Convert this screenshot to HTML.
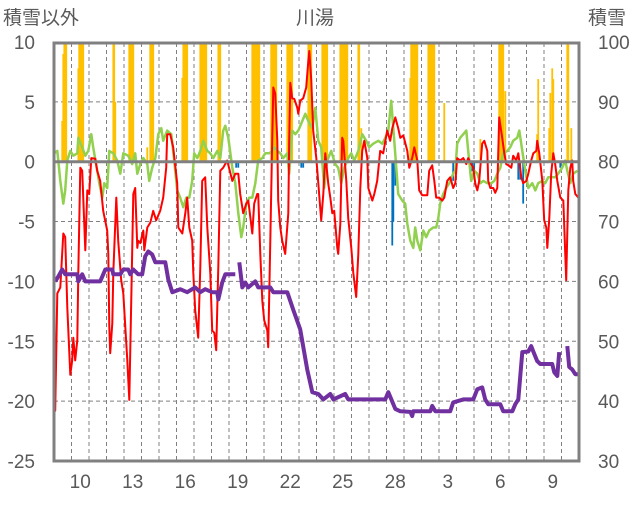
<!DOCTYPE html>
<html><head><meta charset="utf-8"><style>
body{margin:0;background:#fff;width:636px;height:501px;overflow:hidden}
svg text{font-family:"Liberation Sans","Noto Sans CJK JP",sans-serif;fill:#595959;font-size:19px}
</style></head><body>
<svg id="chart" width="636" height="501">
<defs><clipPath id="clip"><rect x="54" y="43" width="525" height="418"/></clipPath></defs>
<g id="grid"></g>
<g id="bars" clip-path="url(#clip)"></g>
<g id="lines" clip-path="url(#clip)"></g>
<g id="axes"></g>
<text x="3" y="24">積雪以外</text>
<text x="315" y="24" text-anchor="middle">川湯</text>
<text x="588" y="24">積雪</text>
</svg>
<script>
const leftTicks=[10,5,0,-5,-10,-15,-20,-25];
const rightTicks=[100,90,80,70,60,50,40,30];
const dayTicks=[10,13,16,19,22,25,28,31,34,37];
const dayLabels=["10","13","16","19","22","25","28","3","6","9"];
const tempT=[8.51,8.57,8.69,8.86,9.03,9.14,9.26,9.43,9.54,9.6,9.71,9.83,9.89,10.0,10.11,10.29,10.4,10.51,10.63,10.86,10.97,11.14,11.31,11.54,11.6,11.66,11.71,11.83,11.89,12.06,12.17,12.34,12.46,12.69,12.8,12.91,13.03,13.14,13.26,13.31,13.43,13.6,13.66,13.83,14.0,14.17,14.34,14.57,14.74,14.91,14.97,15.14,15.31,15.54,15.6,15.83,16.0,16.11,16.23,16.4,16.46,16.57,16.74,16.86,16.97,17.14,17.26,17.43,17.54,17.66,17.77,17.89,18.0,18.17,18.4,18.69,18.86,19.03,19.14,19.31,19.49,19.6,19.83,19.94,20.11,20.17,20.29,20.4,20.51,20.69,20.74,20.86,20.97,21.03,21.14,21.26,21.31,21.43,21.54,21.71,21.89,21.94,22.0,22.11,22.23,22.4,22.46,22.57,22.74,22.91,23.03,23.09,23.2,23.31,23.49,23.6,23.77,23.89,24.0,24.17,24.29,24.4,24.51,24.69,24.74,24.86,24.97,25.03,25.2,25.31,25.49,25.6,25.77,25.89,26.0,26.11,26.23,26.4,26.46,26.69,26.8,26.97,27.14,27.31,27.54,27.71,27.83,28.0,28.17,28.29,28.46,28.69,28.8,28.97,29.09,29.26,29.37,29.54,29.83,29.94,30.11,30.23,30.34,30.51,30.69,30.8,30.97,31.14,31.31,31.43,31.54,31.71,31.89,32.06,32.17,32.34,32.46,32.57,32.69,32.8,32.97,33.09,33.26,33.31,33.43,33.6,33.71,33.83,33.94,34.11,34.23,34.34,34.46,34.63,34.74,34.91,35.03,35.2,35.31,35.49,35.6,35.77,35.89,36.06,36.11,36.23,36.4,36.51,36.63,36.69,36.8,36.91,37.03,37.14,37.26,37.43,37.6,37.66,37.77,37.89,38.0,38.11,38.17,38.29,38.46];
const tempV=[-19.1,-20.8,-11.0,-10.5,-6.0,-6.3,-12.2,-17.8,-16.6,-14.7,-16.6,-14.9,-9.3,-0.5,-0.75,-7.4,-2.4,-2.7,0.3,0.25,-0.75,-1.6,-4.1,-5.75,-7.7,-13.8,-16.0,-13.5,-9.3,-3.0,-6.6,-9.9,-11.0,-16.6,-19.9,-11.8,-2.7,-2.2,-7.2,-6.6,-6.8,-5.75,-7.4,-5.5,-5.1,-4.1,-4.9,-4.1,-3.0,-0.5,2.3,2.3,1.2,-1.8,-5.5,-6.0,-4.3,-3.0,-5.5,-6.6,-9.3,-12.4,-14.7,-8.8,-1.6,-1.3,-5.5,-9.3,-14.1,-14.3,-15.75,-8.8,-0.75,-0.5,0.1,-1.6,-1.0,-1.0,-2.7,-4.3,-3.5,-3.25,-6.0,-3.5,-2.7,-2.7,-7.7,-11.6,-13.25,-14.1,-15.5,-6.6,1.75,6.2,5.7,1.75,-3.25,-5.5,-6.6,-7.7,-4.3,1.75,6.6,5.3,5.25,4.5,4.0,5.1,5.3,6.2,8.4,9.25,6.75,2.6,0.3,-1.8,-4.9,-2.7,0.7,-1.8,-3.0,-4.3,-4.1,-7.2,-7.7,-5.2,2.0,1.75,-1.6,-4.7,-7.2,-9.3,-11.3,-7.7,-2.2,0.9,1.75,0.3,-2.2,-3.25,-2.7,-1.6,0.9,0.7,2.6,1.75,2.8,3.7,2.8,2.0,2.2,0.9,-0.5,0.3,1.2,0.1,-2.4,-2.8,-2.8,-0.75,-0.3,-1.6,-3.0,-3.0,-3.25,-3.0,-1.6,-1.3,-2.2,-1.8,0.3,0.1,0.3,-0.2,0.3,-0.2,-0.5,-1.8,-2.4,-1.6,1.5,1.75,0.9,-1.6,-2.2,-2.2,-2.6,-2.2,3.7,2.0,0.7,-0.2,-0.3,-0.5,0.5,0.1,0.7,-1.3,-1.8,-1.6,-1.0,0.1,0.7,0.9,1.75,0.7,-1.6,-4.9,-5.5,-7.2,-4.7,-1.0,0.7,-0.2,-1.6,-3.0,-3.25,-5.5,-9.9,-2.4,-0.5,0.1,-1.6,-2.7,-3.0];
const humT=[8.51,8.69,8.86,9.03,9.14,9.26,9.43,9.6,9.83,9.89,10.11,10.29,10.46,10.63,10.74,10.97,11.09,11.26,11.37,11.54,11.66,11.89,12.11,12.29,12.46,12.74,12.97,13.14,13.26,13.43,13.6,13.83,13.94,14.11,14.29,14.46,14.63,14.74,14.97,15.2,15.37,15.54,15.71,15.89,16.06,16.23,16.4,16.51,16.69,16.86,17.03,17.26,17.43,17.6,17.83,18.0,18.17,18.29,18.46,18.69,18.86,19.03,19.2,19.31,19.49,19.66,19.83,20.0,20.17,20.4,20.57,20.8,20.97,21.09,21.26,21.43,21.6,21.83,21.94,22.11,22.29,22.46,22.69,22.86,23.03,23.26,23.43,23.6,23.77,23.94,24.11,24.34,24.57,24.74,24.91,25.09,25.31,25.49,25.66,25.89,26.11,26.34,26.51,26.74,27.03,27.26,27.43,27.6,27.77,27.89,28.06,28.17,28.4,28.57,28.69,28.86,29.03,29.14,29.26,29.43,29.6,29.77,29.94,30.17,30.34,30.46,30.57,30.74,30.91,31.09,31.31,31.43,31.54,31.71,31.89,32.06,32.17,32.34,32.51,32.69,32.86,33.03,33.26,33.49,33.66,33.83,34.0,34.17,34.4,34.57,34.74,34.97,35.09,35.26,35.43,35.6,35.83,36.0,36.17,36.4,36.57,36.74,36.97,37.14,37.31,37.54,37.71,37.83,38.0,38.17,38.4];
const humV=[0.7,0.9,-1.6,-3.5,-2.4,0.1,0.9,0.5,0.7,2.0,1.2,0.5,0.9,2.3,1.2,-0.75,-1.8,-3.0,-1.8,-2.2,0.9,0.7,0.1,-1.0,0.7,0.5,-0.2,0.7,-1.0,-0.2,0.3,-0.2,-1.6,-0.5,0.3,2.3,2.8,1.75,2.6,2.3,0.1,-2.4,-3.0,-3.8,-3.0,-3.0,-1.6,0.7,0.3,0.9,1.75,0.9,0.7,0.3,0.9,0.3,2.6,3.0,2.0,-0.5,-1.8,-4.3,-6.3,-5.5,-3.5,-3.0,-3.0,-1.8,0.1,0.3,0.7,0.7,0.9,1.2,0.9,0.7,0.3,0.7,-1.0,2.6,2.3,2.6,3.4,4.0,3.4,2.8,4.5,1.75,1.2,-2.2,0.1,0.9,-0.2,-0.5,-1.8,-0.5,0.3,0.7,0.1,0.9,2.3,1.75,1.2,1.5,1.75,1.5,2.0,2.6,5.1,2.8,-0.5,-2.7,-3.25,-3.5,-5.2,-6.6,-7.2,-5.5,-6.6,-7.4,-5.75,-6.3,-5.75,-5.5,-5.5,-4.7,-3.5,-2.7,-2.2,-1.8,-1.0,-0.75,1.5,2.0,2.3,2.6,0.9,-1.6,-0.75,-1.0,-1.8,-1.6,-1.8,-1.8,-1.6,-1.0,-0.5,0.7,0.9,1.2,1.75,2.0,2.6,0.9,-0.75,-2.2,-1.8,-2.4,-1.8,-1.6,-1.8,-1.3,-1.3,-1.3,-1.0,-0.5,0.1,-0.75,-1.8,-1.0,-0.75];
const snowT=[8.57,8.74,8.97,9.14,9.83,9.89,10.11,10.29,11.14,11.43,11.83,11.89,12.29,12.46,12.74,12.86,13.03,13.31,13.54,13.71,13.89,14.11,14.29,14.86,15.03,15.26,15.71,16.11,16.57,16.86,17.14,17.54,17.83,17.89,18.11,18.29,18.86,18.95,19.09,19.26,19.43,19.6,20.0,20.17,20.86,21.03,21.83,22.17,22.57,22.97,23.26,23.6,23.89,24.29,24.46,25.14,25.31,27.43,27.6,28.0,28.29,28.86,28.97,29.03,30.0,30.11,30.29,31.14,31.31,31.89,32.46,32.69,32.97,33.14,33.31,34.0,34.17,34.69,34.86,35.03,35.26,35.6,35.77,35.89,36.11,36.29,36.97,37.09,37.26,37.37,37.6,37.83,37.94,38.11,38.29,38.46];
const snowV=[60,60.8,62,61.2,61.2,60,61.2,60,60,62,62,61.2,61.2,62,62,61.2,62,61.2,61.2,64.2,65,64.5,63.2,63.2,60.3,58.2,58.7,58.2,59,58.2,58.7,58.2,58.2,57,59.8,61.2,61.2,null,63.2,59,59.8,59,60,59,59,58.2,58.2,55.3,52,45.3,41.5,41.2,40.3,41.2,40.3,41.2,40.3,40.3,41.5,38.7,38.3,38.2,37.5,38.3,38.3,39.2,38.3,38.3,39.8,40.3,40.3,42,42.3,40.3,39.5,39.5,38.3,38.3,39.5,40.3,48.2,48.3,49.2,48.3,46.7,46.2,46.2,44.8,44.2,48.2,null,49.2,45.7,45.3,44.5,44.5];
const precipT=[8.97,9.03,9.09,9.14,9.2,9.89,9.94,10.0,10.06,10.11,10.17,11.89,11.94,12.0,12.8,12.86,12.91,12.97,13.03,13.83,14.0,14.06,14.11,14.17,15.83,15.89,15.94,16.0,16.06,16.11,16.86,16.91,16.97,17.03,17.09,17.14,17.2,17.89,17.94,18.0,19.83,19.89,19.94,20.0,20.06,20.11,20.17,20.23,20.91,20.97,21.03,21.09,21.14,21.2,21.83,21.89,21.94,22.0,22.06,22.11,23.03,23.09,23.14,23.2,23.83,23.89,23.94,24.0,24.06,24.11,24.86,24.91,24.97,25.03,25.09,25.14,25.2,25.26,25.89,25.94,26.06,28.86,28.91,28.97,29.03,29.09,29.14,29.2,29.26,29.89,29.94,30.0,30.06,30.11,30.17,30.23,30.8,32.86,33.94,34.0,34.06,34.11,34.17,34.29,36.11,36.17,36.8,36.86,36.97,37.03,37.83,37.89,38.06];
const precipV=[3.4,9,12,12,12,7.8,12,12,12,12,12,12,12,5,12,12,12,12,12,1.2,12,12,12,12,7,12,12,12,12,12,12,12,12,12,12,12,12,12,12,12,12,12,12,12,12,12,12,12,12,12,12,12,12,12,12,12,12,12,12,12,12,12,12,12,12,12,12,12,12,12,12,12,12,12,12,12,12,12,12,12,2.8,7,12,12,12,12,12,12,12,12,12,12,12,12,12,12,4.9,1.9,12,12,12,12,12,5.9,2.3,6.9,2.8,5.75,7.8,6.9,12,12,2.8];
const negT=[18.91,19.03,22.63,22.74,27.83,27.89,28.0,31.31,32.4,32.51,35.03,35.14,35.31,37.43];
const negV=[-0.5,-0.5,-0.5,-0.5,-7,-5,-2,-1.6,-0.8,-1.2,-1.5,-1.5,-3.5,-0.5];

const NS='http://www.w3.org/2000/svg';
const X0=54,XS=17.5,T0=8.5;
const xs=t=>X0+(t-T0)*XS;
const yl=v=>42+(10-v)*11.97;
const yr=v=>42+(100-v)*5.986;
function mk(tag,parent,attrs){const e=document.createElementNS(NS,tag);for(const k in attrs)e.setAttribute(k,attrs[k]);document.getElementById(parent).appendChild(e);return e;}

// horizontal grid
leftTicks.forEach((v,i)=>{
  if(v!==10&&v!==0&&v!==-25){const g=mk('line','grid',{x1:54,x2:579,y1:yl(v),y2:yl(v),stroke:'#808080','stroke-width':1,'stroke-dasharray':'4,3'});
  
  }
  const t=mk('text','axes',{x:35,y:yl(v)+7,'text-anchor':'end'});t.textContent=v;
  
  
});
rightTicks.forEach(v=>{
  const t=mk('text','axes',{x:598,y:yr(v)+7});t.textContent=v;
  
  
});
for(let d=9.5;d<38.5;d+=1){
  const g=mk('line','grid',{x1:xs(d),x2:xs(d),y1:43,y2:460,stroke:'#808080','stroke-width':1,'stroke-dasharray':'4,3'});
  
  
}
dayTicks.forEach((d,i)=>{
  const t=mk('text','axes',{x:xs(d),y:488,'text-anchor':'middle'});t.textContent=dayLabels[i];
  
  
});
// bars
precipT.forEach((t,i)=>{
  const b=mk('rect','bars',{x:xs(t)-0.9,y:yl(precipV[i]),width:1.8,height:yl(0)-yl(precipV[i]),fill:'#FFC000'});
  
  
});
negT.forEach((t,i)=>{
  const b=mk('rect','bars',{x:xs(t)-0.9,y:yl(0),width:1.8,height:yl(negV[i])-yl(0),fill:'#0070C0'});
  
  
});
function path(T,V,f){let d='',pen=false;T.forEach((t,i)=>{if(V[i]===null){pen=false;return;}d+=(pen?'L':'M')+xs(t).toFixed(1)+','+f(V[i]).toFixed(1);pen=true;});return d;}
const gl=mk('path','lines',{d:path(humT,humV,yl),fill:'none',stroke:'#92D050','stroke-width':2.5,'stroke-linejoin':'round'});


const rl=mk('path','lines',{d:path(tempT,tempV,yl),fill:'none',stroke:'#FF0000','stroke-width':2,'stroke-linejoin':'round'});


const pl=mk('path','lines',{d:path(snowT,snowV,yr),fill:'none',stroke:'#7030A0','stroke-width':4,'stroke-linejoin':'round'});


// zero line & frame
const z=mk('line','axes',{x1:54,x2:579,y1:yl(0),y2:yl(0),stroke:'#808080','stroke-width':3});


const fr=mk('rect','axes',{x:54,y:43,width:525,height:418,fill:'none',stroke:'#808080','stroke-width':3});


</script>
</body></html>
